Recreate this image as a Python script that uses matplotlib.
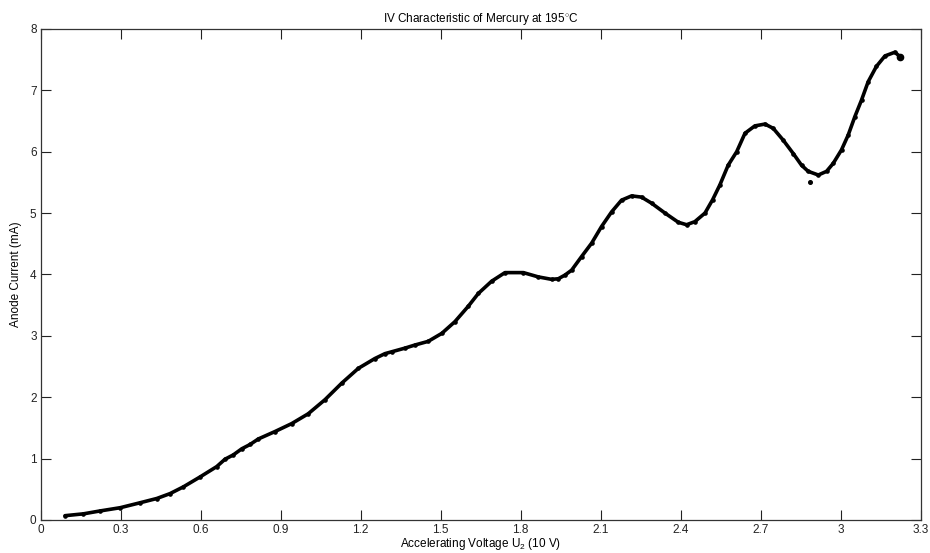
import matplotlib
matplotlib.use("Agg")
import matplotlib.pyplot as plt

voltage = [0.091, 0.16, 0.222, 0.298, 0.372, 0.435, 0.485, 0.535, 0.597, 0.66,
           0.691, 0.722, 0.754, 0.785, 0.816, 0.878, 0.941, 1.003, 1.066, 1.129,
           1.191, 1.253, 1.291, 1.316, 1.366, 1.403, 1.453, 1.504, 1.553, 1.603,
           1.641, 1.691, 1.741, 1.81, 1.866, 1.916, 1.941, 1.966, 1.991, 2.028,
           2.066, 2.103, 2.141, 2.178, 2.216, 2.253, 2.291, 2.341, 2.391, 2.422,
           2.453, 2.491, 2.52, 2.547, 2.578, 2.61, 2.641, 2.678, 2.716, 2.747,
           2.784, 2.822, 2.853, 2.878, 2.916, 2.947, 2.972, 3.003, 3.028, 3.053,
           3.078, 3.103, 3.134, 3.166, 3.203, 3.222]
current = [0.07, 0.10, 0.147, 0.20, 0.28, 0.35, 0.43, 0.54, 0.70, 0.87,
           0.99, 1.06, 1.16, 1.23, 1.32, 1.44, 1.57, 1.73, 1.96, 2.23,
           2.47, 2.63, 2.71, 2.74, 2.80, 2.85, 2.91, 3.04, 3.23, 3.48,
           3.69, 3.89, 4.03, 4.03, 3.96, 3.92, 3.93, 3.99, 4.07, 4.29,
           4.51, 4.78, 5.02, 5.21, 5.28, 5.26, 5.16, 5.00, 4.85, 4.81,
           4.86, 5.00, 5.22, 5.46, 5.78, 6.00, 6.30, 6.42, 6.45, 6.38,
           6.19, 5.97, 5.78, 5.68, 5.62, 5.68, 5.81, 6.03, 6.27, 6.57,
           6.84, 7.14, 7.39, 7.56, 7.62, 7.55]

# stray point below the second dip
outlier_v = [2.885]
outlier_i = [5.51]

xticks = [0, 0.3, 0.6, 0.9, 1.2, 1.5, 1.8, 2.1, 2.4, 2.7, 3.0, 3.3]
xticklabels = ["0", "0.3", "0.6", "0.9", "1.2", "1.5", "1.8", "2.1", "2.4", "2.7", "3", "3.3"]
yticks = [0, 1, 2, 3, 4, 5, 6, 7, 8]

plt.rcParams['font.family'] = ['Liberation Sans', 'DejaVu Sans']
plt.rcParams['mathtext.fontset'] = 'custom'
plt.rcParams['mathtext.rm'] = 'Liberation Sans'

fig = plt.figure(figsize=(9.3, 5.53), dpi=100)
ax = fig.add_axes([0.0438, 0.0597, 0.9462, 0.888])

ax.plot(voltage, current, color='black', lw=2.6, marker='o', ms=2.3,
        mec='black', mfc='black', solid_capstyle='round', solid_joinstyle='round')
ax.plot(outlier_v, outlier_i, 'o', color='black', ms=2.6)
ax.plot(voltage[-1:], current[-1:], 'o', color='black', ms=4.5)

ax.set_xlim(0, 3.3)
ax.set_ylim(0, 8)
ax.set_xticks(xticks)
ax.set_xticklabels(xticklabels)
ax.set_yticks(yticks)
ax.tick_params(direction='in', length=7, width=0.8, top=True, right=True,
               labelsize=8.5, colors='#222222', pad=3)
for s in ax.spines.values():
    s.set_color('#333333')
    s.set_linewidth(0.9)

ax.set_title("IV Characteristic of Mercury at 195$^{\\circ}$C", fontsize=8.5, pad=5)
ax.set_xlabel("Accelerating Voltage U$_2$ (10 V)", fontsize=8.5, labelpad=0)
ax.set_ylabel("Anode Current (mA)", fontsize=8.5, labelpad=6)

fig.savefig("out.png", dpi=100)
